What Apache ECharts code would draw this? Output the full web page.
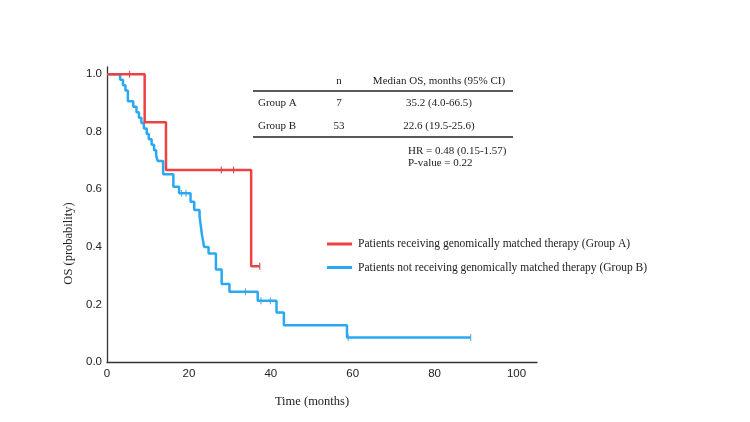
<!DOCTYPE html>
<html>
<head>
<meta charset="utf-8">
<script src="https://cdn.jsdelivr.net/npm/echarts@6/dist/echarts.min.js"></script>
<style>
  html, body { margin: 0; padding: 0; background: #fff; }
  #chart { width: 750px; height: 422px; }
</style>
</head>
<body>
<div id="chart"></div>
<script>
// Kaplan-Meier steps: time (months) and survival after the drop
const groupATimes = [0, 9.2, 14.4, 35.2, 37.3];
const groupASurv = [1, 0.833, 0.667, 0.333, 0.333];
const groupACensor = [5.5, 27.9, 30.9, 37.3];

const groupBTimes = [0, 3.2, 3.9, 4.5, 5.1, 6.4, 7.2, 7.8, 8.4, 9.0, 9.7, 10.2, 10.9, 11.5, 12.0, 12.4, 13.7,
  16.2, 17.6, 20.4, 21.3, 22.6, 22.8, 23.0, 23.2, 23.5, 23.7, 24.8, 26.6, 28.0, 29.9, 36.8, 41.4, 43.2, 58.6, 88.8];
const groupBSurv = [1, 0.981, 0.962, 0.943, 0.906, 0.887, 0.868, 0.849, 0.830, 0.811, 0.792, 0.774, 0.755, 0.736, 0.717, 0.698, 0.652,
  0.609, 0.586, 0.557, 0.528, 0.506, 0.484, 0.462, 0.440, 0.418, 0.400, 0.377, 0.321, 0.271, 0.244, 0.213, 0.172, 0.128, 0.085, 0.085];
const groupBCensor = [18.2, 19.3, 33.8, 37.6, 39.9, 58.9, 88.8];

const nameA = 'Patients receiving genomically matched therapy (Group A)';
const nameB = 'Patients not receiving genomically matched therapy (Group B)';

// table text
const tableHeader = ['', 'n', 'Median OS, months (95% CI)'];
const tableRows = [
  ['Group A', '7', '35.2 (4.0-66.5)'],
  ['Group B', '53', '22.6 (19.5-25.6)']
];
const statLines = ['HR = 0.48 (0.15-1.57)', 'P-value = 0.22'];

function pairs(ts, ss) {
  return ts.map((t, i) => [t, ss[i]]);
}
function survAt(ts, ss, t) {
  let v = ss[0];
  for (let i = 0; i < ts.length; i++) { if (ts[i] <= t) v = ss[i]; }
  return v;
}
function censorPts(cs, ts, ss) {
  return cs.map(t => [t, survAt(ts, ss, t)]);
}

const serif = '"Liberation Serif", "Times New Roman", serif';
const sans = '"Liberation Sans", Arial, sans-serif';

const redCol = '#ee4242';
const blueCol = '#2aa9f2';

let graphics = [];
const colX = [258, 339, 439];
graphics.push({ type: 'line', shape: { x1: 253, y1: 91, x2: 513, y2: 91 }, style: { stroke: '#222', lineWidth: 1.3 } });
graphics.push({ type: 'line', shape: { x1: 253, y1: 137, x2: 513, y2: 137 }, style: { stroke: '#222', lineWidth: 1.3 } });
tableHeader.forEach((t, i) => {
  if (!t) return;
  graphics.push({ type: 'text', x: colX[i], y: 81, style: { text: t, font: '11px ' + serif, fill: '#222', align: 'center', verticalAlign: 'middle' } });
});
tableRows.forEach((row, r) => {
  const y = 103 + r * 23;
  row.forEach((t, i) => {
    graphics.push({ type: 'text', x: colX[i], y: y, style: { text: t, font: '11px ' + serif, fill: '#222', align: i === 0 ? 'left' : 'center', verticalAlign: 'middle' } });
  });
});
statLines.forEach((t, i) => {
  graphics.push({ type: 'text', x: 408, y: 151 + i * 12, style: { text: t, font: '11px ' + serif, fill: '#222', align: 'left', verticalAlign: 'middle' } });
});

let myChart = echarts.init(document.getElementById('chart'));
let option = {
  animation: false,
  backgroundColor: '#fff',
  grid: { left: 107, right: 213, top: 67, bottom: 60 },
  legend: {
    data: [nameA, nameB],
    orient: 'vertical',
    left: 322,
    top: 232,
    icon: 'rect',
    itemWidth: 25,
    itemHeight: 3,
    itemGap: 9.5,
    selectedMode: false,
    textStyle: { fontFamily: serif, fontSize: 11.5, color: '#222', lineHeight: 14, padding: [0, 0, 0, 1] }
  },
  xAxis: {
    type: 'value',
    min: 0,
    max: 105,
    interval: 20,
    name: 'Time (months)',
    nameLocation: 'middle',
    nameGap: 33,
    nameTextStyle: { fontFamily: serif, fontSize: 12.5, color: '#222', padding: [0, 20, 0, 0] },
    splitLine: { show: false },
    axisTick: { show: false },
    axisLine: { lineStyle: { color: '#333', width: 1.3 } },
    axisLabel: { fontFamily: sans, fontSize: 11.5, color: '#222', margin: 6, showMaxLabel: false }
  },
  yAxis: {
    type: 'value',
    min: 0,
    max: 1.025,
    interval: 0.2,
    name: 'OS (probability)',
    nameLocation: 'middle',
    nameGap: 30,
    nameTextStyle: { fontFamily: serif, fontSize: 12.5, color: '#222', padding: [0, 58, 0, 0] },
    splitLine: { show: false },
    axisTick: { show: false },
    axisLine: { show: true, lineStyle: { color: '#333', width: 1.3 } },
    axisLabel: { fontFamily: sans, fontSize: 11.5, color: '#222', margin: 5, showMaxLabel: false, formatter: v => v.toFixed(1) }
  },
  series: [
    {
      name: nameB,
      type: 'line',
      step: 'end',
      symbol: 'none',
      data: pairs(groupBTimes, groupBSurv),
      lineStyle: { color: blueCol, width: 2.5 },
      itemStyle: { color: blueCol }
    },
    {
      name: 'censorB',
      type: 'scatter',
      symbol: 'rect',
      symbolSize: [1.2, 7],
      data: censorPts(groupBCensor, groupBTimes, groupBSurv),
      itemStyle: { color: '#4f9bd6' }
    },
    {
      name: nameA,
      type: 'line',
      step: 'end',
      symbol: 'none',
      data: pairs(groupATimes, groupASurv),
      lineStyle: { color: redCol, width: 2.5 },
      itemStyle: { color: redCol }
    },
    {
      name: 'censorA',
      type: 'scatter',
      symbol: 'rect',
      symbolSize: [1.2, 7],
      data: censorPts(groupACensor, groupATimes, groupASurv),
      itemStyle: { color: '#b0304c' }
    }
  ],
  graphic: graphics
};
myChart.setOption(option);
</script>
</body>
</html>
